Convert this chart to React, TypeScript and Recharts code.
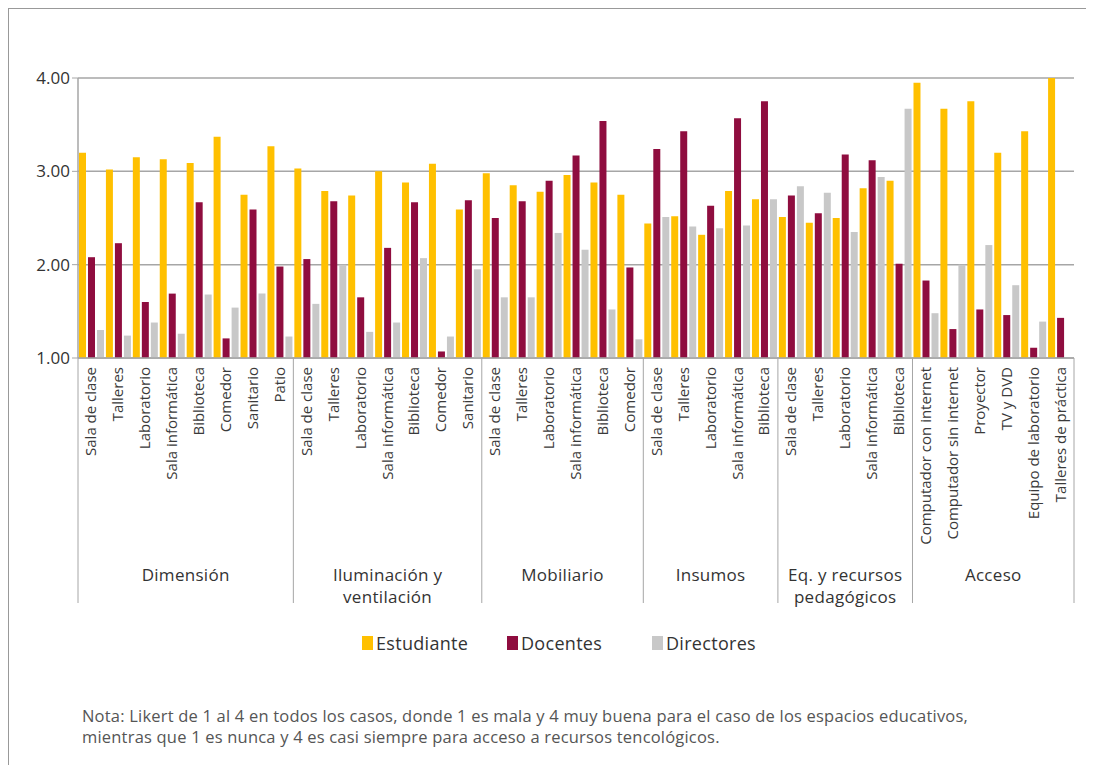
import { BarChart, Bar, XAxis, YAxis, CartesianGrid } from 'recharts'

const categories = [
  'Sala de clase', 'Talleres', 'Laboratorio', 'Sala informática', 'Biblioteca', 'Comedor', 'Sanitario', 'Patio',
  'Sala de clase', 'Talleres', 'Laboratorio', 'Sala informática', 'Biblioteca', 'Comedor', 'Sanitario',
  'Sala de clase', 'Talleres', 'Laboratorio', 'Sala informática', 'Biblioteca', 'Comedor',
  'Sala de clase', 'Talleres', 'Laboratorio', 'Sala informática', 'Biblioteca',
  'Sala de clase', 'Talleres', 'Laboratorio', 'Sala informática', 'Biblioteca',
  'Computador con internet', 'Computador sin internet', 'Proyector', 'TV y DVD', 'Equipo de laboratorio', 'Talleres de práctica',
]

const groupLabels = [
  ['Dimensión'],
  ['Iluminación y', 'ventilación'],
  ['Mobiliario'],
  ['Insumos'],
  ['Eq. y recursos', 'pedagógicos'],
  ['Acceso'],
]
const groupSizes = [8, 7, 6, 5, 5, 6]

const estudiante = [
  3.2, 3.02, 3.15, 3.13, 3.09, 3.37, 2.75, 3.27,
  3.03, 2.79, 2.74, 3.0, 2.88, 3.08, 2.59,
  2.98, 2.85, 2.78, 2.96, 2.88, 2.75,
  2.44, 2.52, 2.32, 2.79, 2.7,
  2.51, 2.45, 2.5, 2.82, 2.9,
  3.95, 3.67, 3.75, 3.2, 3.43, 4.0,
]
const docentes = [
  2.08, 2.23, 1.6, 1.69, 2.67, 1.21, 2.59, 1.98,
  2.06, 2.68, 1.65, 2.18, 2.67, 1.07, 2.69,
  2.5, 2.68, 2.9, 3.17, 3.54, 1.97,
  3.24, 3.43, 2.63, 3.57, 3.75,
  2.74, 2.55, 3.18, 3.12, 2.01,
  1.83, 1.31, 1.52, 1.46, 1.11, 1.43,
]
const directores: (number | null)[] = [
  1.3, 1.24, 1.38, 1.26, 1.68, 1.54, 1.69, 1.23,
  1.58, 2.0, 1.28, 1.38, 2.07, 1.23, 1.95,
  1.65, 1.65, 2.34, 2.16, 1.52, 1.2,
  2.51, 2.41, 2.39, 2.42, 2.7,
  2.84, 2.77, 2.35, 2.94, 3.67,
  1.48, 2.0, 2.21, 1.78, 1.39, null,
]

const series = [
  { key: 'estudiante', name: 'Estudiante', color: '#FFC000' },
  { key: 'docentes', name: 'Docentes', color: '#8F0D3F' },
  { key: 'directores', name: 'Directores', color: '#C8C8C8' },
]

const yTicks = [1, 2, 3, 4]

const data = categories.map((name, i) => ({
  id: String(i),
  name,
  estudiante: estudiante[i],
  docentes: docentes[i],
  directores: directores[i],
}))

const FONT = '"Open Sans", "Noto Sans", sans-serif'
const CHART_W = 1086
const CHART_H = 600
const MARGIN = { top: 70, right: 20, bottom: 5, left: 0 }
const Y_W = 70
const X_H = 245
const BAND = (CHART_W - MARGIN.left - MARGIN.right - Y_W) / categories.length
const GRID = '#a6a6a6'

const groupStarts: number[] = []
groupSizes.reduce((acc, n) => {
  groupStarts.push(acc)
  return acc + n
}, 0)

function CategoryTick(props: any) {
  const { x, y, payload } = props
  const i = Number(payload.value)
  const g = groupStarts.indexOf(i)
  const last = i === categories.length - 1
  const cx = g >= 0 ? x + ((groupSizes[g] - 1) / 2) * BAND : 0
  return (
    <g>
      <text
        x={0}
        y={0}
        transform={`translate(${x + 5},${y + 9}) rotate(-90)`}
        textAnchor="end"
        fontSize={15}
        fill="#3a3a3a"
        fontFamily={FONT}
      >
        {categories[i]}
      </text>
      {g >= 0 && (
        <>
          <line x1={x - BAND / 2} x2={x - BAND / 2} y1={y} y2={y + X_H} stroke={GRID} strokeWidth={1} />
          {groupLabels[g].map((line, k) => (
            <text
              key={k}
              x={cx}
              y={y + 223 + k * 22}
              textAnchor="middle"
              fontSize={17}
              letterSpacing={0.3}
              fill="#333"
              fontFamily={FONT}
            >
              {line}
            </text>
          ))}
        </>
      )}
      {last && <line x1={x + BAND / 2} x2={x + BAND / 2} y1={y} y2={y + X_H} stroke={GRID} strokeWidth={1} />}
    </g>
  )
}

export default function App() {
  return (
    <div style={{ position: 'relative', width: 1086, height: 757, fontFamily: FONT }}>
      <div
        style={{
          position: 'absolute',
          left: 0,
          top: 0,
          width: 1086,
          height: 757,
          boxSizing: 'border-box',
          borderTop: '1px solid #999',
          borderLeft: '1px solid #999',
        }}
      />
      <div style={{ position: 'absolute', left: 0, top: 0 }}>
        <BarChart
          width={CHART_W}
          height={CHART_H}
          data={data}
          margin={MARGIN}
          barGap={2}
          barCategoryGap={1}
        >
          <CartesianGrid vertical={false} stroke={GRID} strokeWidth={1.5} />
          <XAxis
            dataKey="id"
            interval={0}
            height={X_H}
            tickSize={0}
            tickMargin={0}
            axisLine={{ stroke: GRID, strokeWidth: 1.5 }}
            tickLine={false}
            tick={<CategoryTick />}
          />
          <YAxis
            domain={[1, 4]}
            ticks={yTicks}
            width={Y_W}
            tickSize={6}
            tickFormatter={(v: number) => v.toFixed(2)}
            axisLine={{ stroke: GRID, strokeWidth: 1.5 }}
            tickLine={{ stroke: GRID }}
            tick={{ fontSize: 17, fill: '#333', fontFamily: FONT }}
            allowDataOverflow
          />
          {series.map((s) => (
            <Bar key={s.key} dataKey={s.key} name={s.name} fill={s.color} isAnimationActive={false} />
          ))}
        </BarChart>
      </div>
      <div style={{ position: 'absolute', left: 354, top: 624, display: 'flex' }}>
        {series.map((s) => (
          <div key={s.key} style={{ width: 145, display: 'flex', alignItems: 'center', height: 22 }}>
            <span style={{ width: 11, height: 14, background: s.color, display: 'inline-block' }} />
            <span style={{ marginLeft: 3, fontSize: 18, letterSpacing: 0.3, color: '#333' }}>{s.name}</span>
          </div>
        ))}
      </div>
      <div
        style={{
          position: 'absolute',
          left: 74,
          top: 697,
          fontSize: 16.5,
          letterSpacing: 0.2,
          lineHeight: '21px',
          color: '#555',
          whiteSpace: 'nowrap',
        }}
      >
        Nota: Likert de 1 al 4 en todos los casos, donde 1 es mala y 4 muy buena para el caso de los espacios educativos,
        <br />
        mientras que 1 es nunca y 4 es casi siempre para acceso a recursos tencológicos.
      </div>
    </div>
  )
}
